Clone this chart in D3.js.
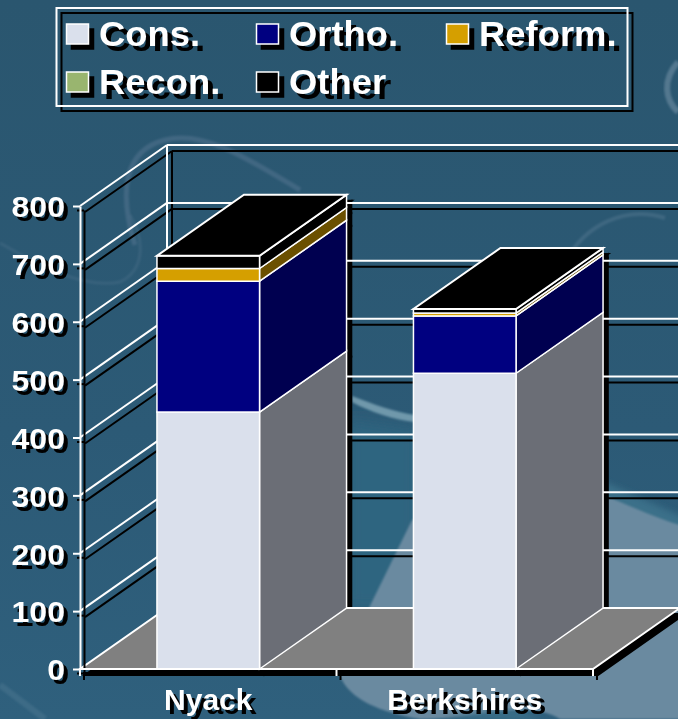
<!DOCTYPE html>
<html><head><meta charset="utf-8">
<script src="https://cdn.jsdelivr.net/npm/d3@7"></script>
<style>
html,body{margin:0;padding:0;background:#2a566f;overflow:hidden}
svg{display:block}
text{font-family:"Liberation Sans",Arial,sans-serif;font-weight:700;fill:#fff}
</style></head><body>
<svg id="c" width="678" height="719"></svg>
<script>
const categories = ["Nyack","Berkshires"];
const seriesNames = ["Cons.","Ortho.","Reform.","Recon.","Other"];
const cons   = [444,511];
const ortho  = [226,99];
const reform = [22,5];
const recon  = [0,0];
const other  = [22,7];
const yTicks = [0,100,200,300,400,500,600,700,800];
const seriesValues = [cons,ortho,reform,recon,other];
const colors = ["#dae0ec","#000080","#d59f00","#99b56f","#000000"];
const sideColors = ["#6b6e76","#000050","#6b5000","#4c5a38","#000000"];

const W=678,H=719;
const svg=d3.select("#c");
const defs=svg.append("defs");
const lg=defs.append("linearGradient").attr("id","bg").attr("x1",0).attr("y1",0).attr("x2",0).attr("y2",1);
lg.append("stop").attr("offset",0).attr("stop-color","#2a566f");
lg.append("stop").attr("offset",.6).attr("stop-color","#2c5a76");
lg.append("stop").attr("offset",1).attr("stop-color","#2f607d");
[["b8",8],["b3",3],["b1",1]].forEach(([id,s])=>defs.append("filter").attr("id",id).attr("x","-30%").attr("y","-30%").attr("width","160%").attr("height","160%").append("feGaussianBlur").attr("stdDeviation",s));

// background art
const bg=svg.append("g");
bg.append("rect").attr("width",W).attr("height",H).attr("fill","url(#bg)");
bg.append("path").attr("d","M345 420 L420 430 L420 610 L345 610Z").attr("fill","#2e6580").attr("filter","url(#b8)");
bg.append("path").attr("d","M600 480 L690 520 L690 560 L600 520Z").attr("fill","#3a7089").attr("filter","url(#b3)");
bg.append("path").attr("d","M367 612 L412 520 L520 490 L608 497 C640 510 660 520 690 528 L690 719 L560 719 C530 700 480 719 420 719 C380 712 350 700 340 676Z")
  .attr("fill","#6a8aa0").attr("filter","url(#b1)");
bg.append("path").attr("d","M540 719 C520 705 480 712 440 719Z").attr("fill","#3a7089").attr("filter","url(#b3)");
bg.append("path").attr("d","M352 396 C375 405 395 412 415 415 L415 422 C395 420 370 412 352 402Z").attr("fill","#6f98ab").attr("filter","url(#b1)");
const swirl=(d,c,w,o)=>bg.append("path").attr("d",d).attr("fill","none").attr("stroke",c).attr("stroke-width",w).attr("opacity",o).attr("filter","url(#b1)");
swirl("M135 245 C118 190 125 150 165 140 C205 130 250 160 300 190","#6b84a0",5,.35);
swirl("M130 215 C145 240 145 270 120 282 C80 290 30 260 0 243","#5b7c95",3,.28);
swirl("M565 262 C585 225 625 205 665 218","#6d8ba3",4,.3);
swirl("M678 62 C662 80 665 100 678 112","#7d99ad",6,.5);
swirl("M0 685 L45 719","#537d95",6,.4);

// scales
const y=d3.scaleLinear().domain([0,800]).range([669,206]);
const x=d3.scaleBand().domain(categories).range([80,593]).paddingInner(.6).paddingOuter(.3);
const depthX=87, depthY=-61;

const chart=svg.append("g").style("filter","drop-shadow(5px 6px 0 #000)");
const line=(g,x1,y1,x2,y2)=>g.append("line").attr("x1",x1).attr("y1",y1).attr("x2",x2).attr("y2",y2)
  .attr("stroke","#fff").attr("stroke-width",2).attr("fill","none");
const x0=x.range()[0],x1=x.range()[1];

yTicks.slice(1).forEach(t=>{
  line(chart,x0,y(t),x0+depthX,y(t)+depthY);
  line(chart,x0+depthX,y(t)+depthY,W+10,y(t)+depthY);
});
line(chart,x0+depthX,y(800)+depthY,x0+depthX,y(0)+depthY);

chart.append("path").attr("d",d3.line()([[x0,y(0)],[x1,y(0)],[x1+depthX,y(0)+depthY],[x0+depthX,y(0)+depthY]])+"Z")
  .attr("fill","#808080").attr("stroke","#fff").attr("stroke-width",2);

const stackRows=categories.map((c,i)=>{const r={cat:c};seriesNames.forEach((s,j)=>r[s]=seriesValues[j][i]);return r;});
const stacked=d3.stack().keys(seriesNames)(stackRows);
const poly=pts=>d3.line()(pts)+"Z";
categories.forEach((c,i)=>{
  const l=x(c),r=l+x.bandwidth();
  const g=chart.append("g");
  stacked.forEach((s,j)=>{
    const a=y(s[i][0]),b=y(s[i][1]);
    if(a===b) return;
    g.append("path").attr("d",poly([[r,a],[r+depthX,a+depthY],[r+depthX,b+depthY],[r,b]]))
      .attr("fill",sideColors[j]).attr("stroke","#fff").attr("stroke-width",1.5);
  });
  stacked.forEach((s,j)=>{
    const a=y(s[i][0]),b=y(s[i][1]);
    if(a===b) return;
    g.append("rect").attr("x",l).attr("y",b).attr("width",x.bandwidth()).attr("height",a-b)
      .attr("fill",colors[j]).attr("stroke","#fff").attr("stroke-width",1.5);
  });
  const t=y(stacked[stacked.length-1][i][1]);
  g.append("path").attr("d",poly([[l,t],[r,t],[r+depthX,t+depthY],[l+depthX,t+depthY]]))
    .attr("fill","#000").attr("stroke","#fff").attr("stroke-width",2);
});

const stretch=(sel,k)=>sel.each(function(){this.setAttribute("textLength",this.getComputedTextLength()*k);this.setAttribute("lengthAdjust","spacingAndGlyphs");});

const axes=svg.append("g").style("filter","drop-shadow(4px 4px 0 #000)");
const ay=axes.append("g").attr("transform",`translate(${x0},0)`)
  .call(d3.axisLeft(y).tickValues(yTicks).tickSize(7).tickSizeOuter(0).tickPadding(8));
const ax=axes.append("g").attr("transform",`translate(0,${y(0)})`)
  .call(d3.axisBottom(x.copy().paddingInner(0).paddingOuter(0)).tickSize(0).tickPadding(20));
[ay,ax].forEach(g=>{g.selectAll("line,path").attr("stroke","#fff").attr("stroke-width",2);});
ax.select(".domain").attr("d",`M${x0},7V0H${x1}V7`);
ax.append("line").attr("x1",(x0+x1)/2).attr("x2",(x0+x1)/2).attr("y1",0).attr("y2",7).attr("stroke","#fff").attr("stroke-width",2);
ay.selectAll("text").attr("font-size",30).attr("dy","0.36em").style("font-family",'"Liberation Sans",Arial,sans-serif').attr("fill","#fff").call(stretch,1.07);
ax.selectAll("text").attr("font-size",30).style("font-family",'"Liberation Sans",Arial,sans-serif').attr("fill","#fff").call(stretch,1.0);

const lgd=svg.append("g").style("filter","drop-shadow(5px 5px 0 #000)");
lgd.append("rect").attr("x",56.5).attr("y",8).attr("width",571).attr("height",98).attr("fill","none").attr("stroke","#fff").attr("stroke-width",2);
const colX=d3.scalePoint().domain([0,1,2]).range([66,446]);
const rowY=d3.scalePoint().domain([0,1]).range([24,72]);
seriesNames.forEach((s,i)=>{
  const cx=colX(i%3),cy=rowY(Math.floor(i/3));
  lgd.append("rect").attr("x",cx+.5).attr("y",cy).attr("width",22).attr("height",20).attr("fill",colors[i]).attr("stroke","#fff").attr("stroke-width",1.5);
  lgd.append("text").attr("x",cx+33).attr("y",cy+22).attr("font-size",35).text(s).call(stretch,1.04);
});
</script></body></html>
